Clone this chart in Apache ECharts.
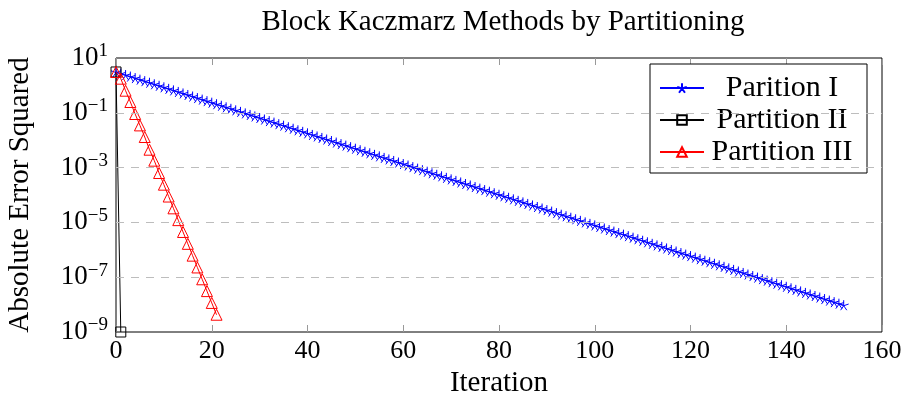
<!DOCTYPE html>
<html>
<head>
<meta charset="utf-8">
<title>Block Kaczmarz Methods by Partitioning</title>
<script src="https://cdn.jsdelivr.net/npm/echarts@6/dist/echarts.min.js"></script>
<style>
  html, body { margin: 0; padding: 0; background: #fff; }
  #chart { width: 903px; height: 401px; }
</style>
</head>
<body>
<div id="chart"></div>
<script>
// absolute error squared per iteration
var errPartI = [
  3.09, 2.72, 2.39, 2.10, 1.85, 1.62, 1.43, 1.25, 1.10, 0.968,
  0.851, 0.748, 0.658, 0.578, 0.508, 0.447, 0.393, 0.345, 0.303, 0.267,
  0.234, 0.206, 0.181, 0.159, 0.140, 0.123, 0.108, 9.51e-2, 8.36e-2, 7.35e-2,
  6.46e-2, 5.68e-2, 4.99e-2, 4.39e-2, 3.85e-2, 3.39e-2, 2.98e-2, 2.62e-2, 2.30e-2, 2.02e-2,
  1.78e-2, 1.56e-2, 1.37e-2, 1.21e-2, 1.06e-2, 9.33e-3, 8.20e-3, 7.21e-3, 6.34e-3, 5.57e-3,
  4.90e-3, 4.31e-3, 3.78e-3, 3.33e-3, 2.92e-3, 2.57e-3, 2.26e-3, 1.99e-3, 1.75e-3, 1.53e-3,
  1.35e-3, 1.19e-3, 1.04e-3, 9.16e-4, 8.05e-4, 7.08e-4, 6.22e-4, 5.47e-4, 4.81e-4, 4.23e-4,
  3.72e-4, 3.27e-4, 2.87e-4, 2.52e-4, 2.22e-4, 1.95e-4, 1.71e-4, 1.51e-4, 1.32e-4, 1.16e-4,
  1.02e-4, 8.99e-5, 7.91e-5, 6.95e-5, 6.11e-5, 5.37e-5, 4.72e-5, 4.15e-5, 3.65e-5, 3.21e-5,
  2.82e-5, 2.48e-5, 2.18e-5, 1.91e-5, 1.68e-5, 1.48e-5, 1.30e-5, 1.14e-5, 1.00e-5, 8.83e-6,
  7.76e-6, 6.82e-6, 6.00e-6, 5.27e-6, 4.63e-6, 4.07e-6, 3.58e-6, 3.15e-6, 2.77e-6, 2.43e-6,
  2.14e-6, 1.88e-6, 1.65e-6, 1.45e-6, 1.28e-6, 1.12e-6, 9.86e-7, 8.67e-7, 7.62e-7, 6.70e-7,
  5.89e-7, 5.18e-7, 4.55e-7, 4.00e-7, 3.52e-7, 3.09e-7, 2.72e-7, 2.39e-7, 2.10e-7, 1.85e-7,
  1.62e-7, 1.43e-7, 1.25e-7, 1.10e-7, 9.68e-8, 8.51e-8, 7.48e-8, 6.58e-8, 5.78e-8, 5.08e-8,
  4.47e-8, 3.93e-8, 3.45e-8, 3.03e-8, 2.67e-8, 2.34e-8, 2.06e-8, 1.81e-8, 1.59e-8, 1.40e-8,
  1.23e-8, 1.08e-8, 9.51e-9
];
var errPartII = [3.09, 1.0e-9];
var errPartIII = [
  3.09, 1.76, 0.641, 0.248, 9.04e-2, 3.47e-2, 1.31e-2, 4.50e-3, 1.79e-3, 6.35e-4,
  2.38e-4, 8.79e-5, 3.26e-5, 1.21e-5, 4.47e-6, 1.65e-6, 6.12e-7, 2.27e-7, 8.39e-8, 3.11e-8,
  1.15e-8, 4.27e-9
];
var seriesNames = ['Parition I', 'Partition II', 'Partition III'];
var xTicks = [0, 20, 40, 60, 80, 100, 120, 140, 160];
var yGridVals = [1e-1, 1e-3, 1e-5, 1e-7];

var serif = "'Liberation Serif', 'DejaVu Serif', serif";
var starPath = 'path://M0 0L0 -10M0 0L9.51 -3.09M0 0L5.88 8.09M0 0L-5.88 8.09M0 0L-9.51 -3.09';

function toPairs(arr) {
  return arr.map(function (v, i) { return [i, v]; });
}

var myChart = echarts.init(document.getElementById('chart'));
var option = {
  animation: false,
  backgroundColor: '#fff',
  title: {
    text: 'Block Kaczmarz Methods by Partitioning',
    left: 498,
    textAlign: 'center',
    top: 3,
    textStyle: { fontFamily: serif, fontSize: 29, fontWeight: 'normal', color: '#000' }
  },
  legend: {
    data: seriesNames,
    orient: 'vertical',
    left: 650,
    top: 64,
    backgroundColor: '#fff',
    borderColor: '#000',
    borderWidth: 1,
    borderRadius: 0,
    padding: [9, 12, 6, 9],
    itemGap: 2,
    itemWidth: 44,
    itemHeight: 12,
    formatter: function (name) { return '{c|' + name + '}'; },
    textStyle: {
      fontFamily: serif, fontSize: 30, lineHeight: 30, color: '#000',
      rich: { c: { width: 146, align: 'center', fontFamily: serif, fontSize: 30, lineHeight: 30 } }
    }
  },
  grid: {
    left: 116, right: 21, top: 58, bottom: 69,
    outerBoundsMode: 'none',
    containLabel: false,
    show: true, borderColor: '#000', borderWidth: 1
  },
  xAxis: [{
    type: 'value',
    min: xTicks[0],
    max: xTicks[xTicks.length - 1],
    interval: 20,
    name: 'Iteration',
    nameLocation: 'middle',
    nameGap: 37,
    nameTextStyle: { fontFamily: serif, fontSize: 29, color: '#000' },
    axisLine: { show: false },
    axisTick: { show: true, inside: true, length: 7, lineStyle: { color: '#999' } },
    axisLabel: { fontFamily: serif, fontSize: 26, color: '#000', margin: 6 },
    splitLine: { show: false }
  }, {
    type: 'value',
    position: 'top',
    min: xTicks[0],
    max: xTicks[xTicks.length - 1],
    interval: 20,
    axisLine: { show: false },
    axisTick: { show: true, inside: true, length: 7, lineStyle: { color: '#999' } },
    axisLabel: { show: false },
    splitLine: { show: false }
  }],
  yAxis: {
    type: 'log',
    logBase: 10,
    min: 1e-9,
    max: 10,
    interval: 1,
    name: 'Absolute Error Squared',
    nameLocation: 'middle',
    nameGap: 81,
    nameTextStyle: { fontFamily: serif, fontSize: 29, color: '#000' },
    axisLine: { show: false },
    axisTick: { show: false },
    splitLine: { show: false },
    axisLabel: {
      margin: 8,
      formatter: function (val) {
        var e = Math.round(Math.log10(val));
        if (Math.abs(e) % 2 !== 1) return '';
        var s = e < 0 ? '\u2212' + (-e) : '' + e;
        return '{b|10}{e|' + s + '}';
      },
      rich: {
        b: { fontFamily: serif, fontSize: 27, color: '#000', lineHeight: 32 },
        e: { fontFamily: serif, fontSize: 19, color: '#000', verticalAlign: 'top', lineHeight: 19 }
      }
    }
  },
  series: [{
    name: seriesNames[0],
    type: 'line',
    z: 2,
    data: toPairs(errPartI),
    symbol: starPath,
    symbolSize: 10,
    lineStyle: { color: '#0000ff', width: 1 },
    itemStyle: { color: 'rgba(0,0,0,0)', borderColor: '#0000ff', borderWidth: 1 },
    // dashed horizontal grid at the labelled decades
    markLine: {
      silent: true,
      symbol: 'none',
      precision: 12,
      label: { show: false },
      lineStyle: { color: '#bdbdbd', type: [8, 7], width: 1 },
      data: yGridVals.map(function (v) { return { yAxis: v }; })
    }
  }, {
    name: seriesNames[1],
    type: 'line',
    z: 3,
    data: toPairs(errPartII),
    symbol: 'rect',
    symbolSize: 10,
    lineStyle: { color: '#000', width: 1 },
    itemStyle: { color: 'rgba(0,0,0,0)', borderColor: '#000', borderWidth: 1 }
  }, {
    name: seriesNames[2],
    type: 'line',
    z: 3,
    data: toPairs(errPartIII),
    symbol: 'triangle',
    symbolSize: 11,
    lineStyle: { color: '#ff0000', width: 1 },
    itemStyle: { color: 'rgba(0,0,0,0)', borderColor: '#ff0000', borderWidth: 1 }
  }]
};
myChart.setOption(option);
</script>
</body>
</html>
